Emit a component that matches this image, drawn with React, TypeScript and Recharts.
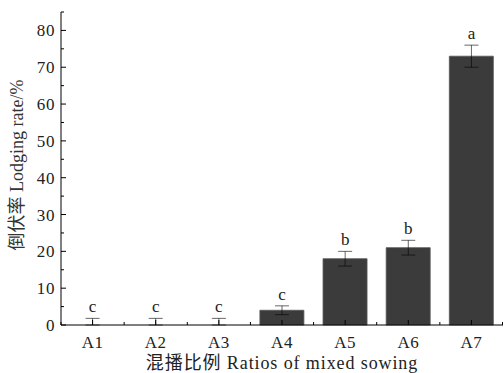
import { ComposedChart, Bar, Line, XAxis, YAxis, ErrorBar, LabelList } from "recharts";

const FONT = '"Liberation Serif", "Noto Sans CJK SC", serif';

const categories = ["A1", "A2", "A3", "A4", "A5", "A6", "A7"];
const lodgingRate = [0, 0, 0, 4, 18, 21, 73];
const stdError = [1.8, 1.8, 1.8, 1.2, 2, 2, 3];
const sigLetters = ["c", "c", "c", "c", "b", "b", "a"];
const yTicks = [0, 5, 10, 15, 20, 25, 30, 35, 40, 45, 50, 55, 60, 65, 70, 75, 80, 85];

const data = categories.map((name, i) => ({
  name,
  value: lodgingRate[i],
  // error drawn upward fully, downward only as far as the axis
  err: [Math.min(stdError[i], lodgingRate[i]), stdError[i]],
  top: lodgingRate[i] + stdError[i],
  letter: sigLetters[i],
}));

const BAND = 442 / categories.length;

function XTick(props: any) {
  const { x, y, payload, index } = props;
  const last = index === categories.length - 1;
  return (
    <g>
      <line x1={x} y1={y} x2={x} y2={y - 5} stroke="#000" strokeWidth={1} />
      <line x1={x - BAND / 2} y1={y} x2={x - BAND / 2} y2={y - 3} stroke="#000" strokeWidth={1} />
      {last && <line x1={x + BAND / 2 - 0.5} y1={y} x2={x + BAND / 2 - 0.5} y2={y - 3} stroke="#000" />}
      <text x={x} y={y + 23} textAnchor="middle" fontSize={17} fontFamily={FONT} fill="#222" letterSpacing={0.5}>
        {payload.value}
      </text>
    </g>
  );
}

function YTick(props: any) {
  const { x, y, payload } = props;
  const major = payload.value % 10 === 0;
  return (
    <g>
      <line x1={x} y1={y} x2={x + (major ? 5 : 3)} y2={y} stroke="#000" strokeWidth={1} />
      {major && payload.value <= 80 && (
        <text x={x - 6} y={y + 6} textAnchor="end" fontSize={17} fontFamily={FONT} fill="#222" letterSpacing={0.6}>
          {payload.value}
        </text>
      )}
    </g>
  );
}

function LetterLabel(props: any) {
  const { x, y, value } = props;
  return (
    <text x={x} y={y - 6} textAnchor="middle" fontSize={17} fontFamily={FONT} fill="#222">
      {value}
    </text>
  );
}

function YTitle() {
  return (
    <text
      x={17}
      y={165}
      transform="rotate(-90 17 165)"
      textAnchor="middle"
      dominantBaseline="central"
      fontSize={18}
      fontFamily={FONT}
      fill="#333"
    >
      倒伏率 Lodging rate/%
    </text>
  );
}

export default function App() {
  return (
    <div style={{ position: "absolute", left: 0, top: 0, background: "#fff" }}>
      <ComposedChart
        width={503}
        height={373}
        data={data}
        margin={{ top: 12, right: 0, left: 0, bottom: 0 }}
        barCategoryGap="15%"
      >
        <XAxis
          dataKey="name"
          height={48}
          stroke="#000"
          tickLine={false}
          tickSize={0}
          tickMargin={0}
          tick={(p: any) => <XTick {...p} />}
          interval={0}
          label={{
            value: "混播比例 Ratios of mixed sowing",
            position: "insideBottom",
            offset: 4,
            fontSize: 18,
            fontFamily: FONT,
            fill: "#222",
            letterSpacing: 0.9,
          }}
        />
        <YAxis
          width={61}
          domain={[0, 85]}
          ticks={yTicks}
          interval={0}
          stroke="#000"
          tickLine={false}
          tickSize={0}
          tickMargin={0}
          tick={(p: any) => <YTick {...p} />}
          label={{ content: () => <YTitle /> }}
        />
        <Bar dataKey="value" fill="#3b3b3b" stroke="#555" strokeWidth={0.8} isAnimationActive={false} />
        <Line dataKey="value" stroke="none" dot={false} activeDot={false} isAnimationActive={false}>
          <ErrorBar dataKey="err" width={7} stroke="#000" strokeWidth={0.6} direction="y" />
        </Line>
        <Line dataKey="top" stroke="none" dot={false} activeDot={false} isAnimationActive={false}>
          <LabelList dataKey="letter" content={<LetterLabel />} />
        </Line>
      </ComposedChart>
    </div>
  );
}
